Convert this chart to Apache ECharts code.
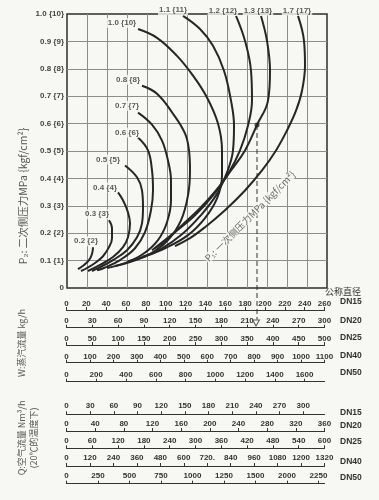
<!DOCTYPE html>
<html><head><meta charset="utf-8">
<script src="https://cdn.jsdelivr.net/npm/echarts@6/dist/echarts.min.js"></script>
<style>html,body{margin:0;padding:0;background:#f7f7f4}#c{width:379px;height:500px}</style>
</head><body><div id="c"></div><script>
// ---- Data ----
const yTickLabels = ['0','0.1 {1}','0.2 {2}','0.3 {3}','0.4 {4}','0.5 {5}','0.6 {6}','0.7 {7}','0.8 {8}','0.9 {9}','1.0 {10}'];
const curveNames = ['0.2 {2}','0.3 {3}','0.4 {4}','0.5 {5}','0.6 {6}','0.7 {7}','0.8 {8}','1.0 {10}','1.1 {11}','1.2 {12}','1.3 {13}','1.7 {17}'];
const labelX = [19,30,38,41,60,60,61,55,106,156,191,230];
const labelY = [0.171,0.269,0.367,0.469,0.567,0.665,0.76,0.967,1.014,1.013,1.013,1.013];

const curve02 = [[26,0.149],[25,0.124],[22,0.102],[17,0.084],[11,0.069]];
const curve03 = [[42,0.247],[45,0.218],[45,0.182],[42,0.149],[36,0.116],[28,0.091],[20,0.073],[14,0.062]];
const curve04 = [[51,0.349],[56,0.32],[61,0.276],[63,0.236],[61,0.185],[56,0.149],[46,0.113],[33,0.084],[21,0.062]];
const curve05 = [[58,0.447],[70,0.404],[75,0.356],[76,0.295],[75,0.236],[70,0.185],[60,0.138],[46,0.102],[33,0.076],[25,0.062]];
const curve06 = [[71,0.549],[81,0.502],[85,0.429],[86,0.356],[84,0.284],[78,0.204],[68,0.145],[53,0.102],[37,0.073],[30,0.065]];
const curve07 = [[71,0.64],[85,0.596],[95,0.538],[101,0.465],[104,0.393],[104,0.32],[100,0.24],[91,0.175],[76,0.124],[58,0.091],[40,0.073]];
const curve08 = [[75,0.738],[90,0.709],[106,0.636],[118,0.564],[122,0.502],[123,0.429],[121,0.338],[114,0.247],[101,0.175],[83,0.124],[63,0.095],[48,0.08]];
const curve10 = [[71,0.945],[90,0.913],[110,0.847],[126,0.775],[140,0.695],[151,0.6],[155,0.502],[155,0.411],[150,0.327],[138,0.255],[121,0.193],[98,0.145],[78,0.116],[61,0.098]];
const curve11 = [[116,0.993],[133,0.945],[146,0.884],[157,0.793],[164,0.684],[167,0.593],[166,0.502],[160,0.422],[149,0.338],[133,0.262],[115,0.196],[95,0.145],[75,0.113]];
const curve12 = [[169,0.993],[178,0.902],[184,0.793],[185,0.684],[181,0.593],[173,0.502],[162,0.422],[146,0.338],[128,0.265],[108,0.204],[85,0.138]];
const curve13 = [[194,0.993],[200,0.902],[203,0.793],[201,0.684],[190,0.595],[178,0.502],[164,0.429],[149,0.356],[133,0.291],[115,0.229],[98,0.171],[88,0.145]];
const curve17 = [[231,0.993],[237,0.902],[238,0.811],[235,0.72],[229,0.647],[220,0.575],[209,0.502],[195,0.429],[178,0.356],[158,0.284],[138,0.222],[123,0.182],[108,0.153]];
const curves = [curve02,curve03,curve04,curve05,curve06,curve07,curve08,curve10,curve11,curve12,curve13,curve17];

const readPoint = [190,0.595];
const readFoot = [190,-0.115];
const readMarker = [189,-0.128];

const steamDN15Labels = ['0','20','40','60','80','100','120','140','160','180','200','220','240','260'];
const steamDN20Labels = ['0','30','60','90','120','150','180','210','240','270','300'];
const steamDN25Labels = ['0','50','100','150','200','250','300','350','400','450','500'];
const steamDN40Labels = ['0','100','200','300','400','500','600','700','800','900','1000','1100'];
const steamDN50Labels = ['0','200','400','600','800','1000','1200','1400','1600'];
const airDN15Labels = ['0','30','60','90','120','150','180','210','240','270','300'];
const airDN20Labels = ['0','40','80','120','160','200','240','280','320','360'];
const airDN25Labels = ['0','60','120','180','240','300','360','420','480','540','600'];
const airDN40Labels = ['0','120','240','360','480','600','720.','840','960','1080','1200','1320'];
const airDN50Labels = ['0','250','500','750','1000','1250','1500','2000','2250'];
const scaleNames = ['DN15','DN20','DN25','DN40','DN50'];

// ---- Build ----
const BG = '#f7f7f4';
const FONT = "'Liberation Sans','Noto Sans CJK SC',sans-serif";
const CJK = "'Noto Sans CJK SC','Liberation Sans',sans-serif";

const scales = [
  {labels: steamDN15Labels, interval: 20, max: 260, top: 309, margin: 1.5},
  {labels: steamDN20Labels, interval: 30, max: 300, top: 326.7, margin: 1.5},
  {labels: steamDN25Labels, interval: 50, max: 500, top: 344, margin: 1},
  {labels: steamDN40Labels, interval: 100, max: 1100, top: 361.7, margin: 1},
  {labels: steamDN50Labels, interval: 200, max: 1734, top: 380.7, margin: 2},
  {labels: airDN15Labels, interval: 30, max: 327, top: 413.3, margin: 4},
  {labels: airDN20Labels, interval: 40, max: 360, top: 430, margin: 2.5},
  {labels: airDN25Labels, interval: 60, max: 600, top: 447.3, margin: 3},
  {labels: airDN40Labels, interval: 120, max: 1320, top: 465, margin: 3},
  {labels: airDN50Labels, interval: 250, max: 2048, top: 482.7, margin: 3}
];

const grids = [{left: 67, top: 14, width: 260, height: 274, show: true, borderColor: '#2e2e2e', borderWidth: 1.5, backgroundColor: 'transparent'}];
const xAxes = [{
  gridIndex: 0, type: 'value', min: 0, max: 260, interval: 20,
  axisLine: {show: false}, axisTick: {show: false}, axisLabel: {show: false},
  splitLine: {show: true, showMinLine: false, showMaxLine: false, lineStyle: {color: '#8c8c8c', width: 1}}
}];
const yAxes = [{
  gridIndex: 0, type: 'value', min: 0, max: 1, interval: 0.1,
  axisLine: {show: false}, axisTick: {show: false},
  axisLabel: {margin: 3, fontSize: 8, fontWeight: 'bold', color: '#444', fontFamily: FONT,
    formatter: v => yTickLabels[Math.round(v * 10)] || ''},
  splitLine: {show: true, showMinLine: false, showMaxLine: false, lineStyle: {color: '#8c8c8c', width: 1}}
}];
scales.forEach((s, i) => {
  const gi = i + 1;
  grids.push({left: 66.5, top: s.top, width: 258, height: 1});
  xAxes.push({
    gridIndex: gi, type: 'value', min: 0, max: s.max, interval: s.interval, position: 'top',
    axisLine: {show: true, lineStyle: {color: '#333', width: 1.2}},
    axisTick: {show: true, length: 3, lineStyle: {color: '#333', width: 1}},
    axisLabel: {margin: s.margin, fontSize: 8, fontWeight: 'bold', color: '#333', fontFamily: FONT,
      showMinLabel: true, showMaxLabel: (s.max % s.interval === 0),
      formatter: v => {
        const k = Math.round(v / s.interval);
        return (Math.abs(v - k * s.interval) < 1e-6 && s.labels[k] != null) ? s.labels[k] : '';
      }},
    splitLine: {show: false}
  });
  yAxes.push({gridIndex: gi, type: 'value', show: false, min: 0, max: 1});
});

const series = curves.map((c, i) => ({
  type: 'line', name: curveNames[i], xAxisIndex: 0, yAxisIndex: 0, data: c,
  smooth: 0.4, symbol: 'none', lineStyle: {color: '#262626', width: 2}, z: 3
}));
series.push({
  type: 'scatter', xAxisIndex: 0, yAxisIndex: 0, symbolSize: 0, clip: false, z: 6,
  data: curveNames.map((n, i) => ({name: n, value: [labelX[i], labelY[i]]})),
  label: {show: true, position: 'inside', formatter: p => p.name, fontSize: 8, fontWeight: 'bold',
    color: '#333', fontFamily: FONT, backgroundColor: BG, padding: [1, 1]}
});
series.push({
  type: 'scatter', xAxisIndex: 0, yAxisIndex: 0, symbolSize: 0, clip: false, z: 6,
  data: [{name: 'P₁: 一次侧压力MPa {kgf/cm²}', value: [183, 0.262]}],
  label: {show: true, position: 'inside', rotate: 45, formatter: p => p.name, fontSize: 9.5,
    color: '#444', fontFamily: CJK, backgroundColor: BG, padding: [0, 1]}
});
series.push({
  type: 'line', xAxisIndex: 0, yAxisIndex: 0, data: [readPoint, readFoot], clip: false, symbol: 'none',
  lineStyle: {color: '#333', width: 1, type: [5, 3]}, z: 4
});
series.push({
  type: 'scatter', xAxisIndex: 0, yAxisIndex: 0, data: [readPoint], symbolSize: 5, z: 7,
  itemStyle: {color: '#222'}
});
series.push({
  type: 'scatter', xAxisIndex: 0, yAxisIndex: 0, data: [readMarker], clip: false, symbol: 'triangle',
  symbolRotate: 180, symbolSize: [7, 6], z: 7,
  itemStyle: {color: BG, borderColor: '#333', borderWidth: 1}
});

const graphic = [
  {type: 'text', x: 23, y: 196, rotation: Math.PI / 2,
   style: {text: 'P₂: 二次侧压力MPa {kgf/cm²}', fontSize: 10.5, fontFamily: CJK, fill: '#555', align: 'center', verticalAlign: 'middle'}},
  {type: 'text', x: 22, y: 343, rotation: Math.PI / 2,
   style: {text: 'W:蒸汽流量 kg/h', fontSize: 9, fontFamily: CJK, fill: '#555', align: 'center', verticalAlign: 'middle'}},
  {type: 'text', x: 22, y: 438, rotation: Math.PI / 2,
   style: {text: 'Q:空气流量 Nm³/h', fontSize: 9, fontFamily: CJK, fill: '#555', align: 'center', verticalAlign: 'middle'}},
  {type: 'text', x: 34, y: 438, rotation: Math.PI / 2,
   style: {text: '(20℃的温度下)', fontSize: 9, fontFamily: CJK, fill: '#555', align: 'center', verticalAlign: 'middle'}},
  {type: 'text', x: 343, y: 292,
   style: {text: '公称直径', fontSize: 9, fontFamily: CJK, fill: '#333', align: 'center', verticalAlign: 'middle'}}
];
const steamDNY = [302, 320.5, 338, 356, 373];
const airDNY = [413, 425.5, 442, 462, 478];
scaleNames.forEach((n, i) => {
  graphic.push({type: 'text', x: 340, y: steamDNY[i], style: {text: n, fontSize: 8.5, fontWeight: 'bold', fontFamily: FONT, fill: '#333', align: 'left', verticalAlign: 'middle'}});
  graphic.push({type: 'text', x: 340, y: airDNY[i], style: {text: n, fontSize: 8.5, fontWeight: 'bold', fontFamily: FONT, fill: '#333', align: 'left', verticalAlign: 'middle'}});
});

const chart = echarts.init(document.getElementById('c'), null, {renderer: 'canvas'});
chart.setOption({
  backgroundColor: BG, animation: false,
  grid: grids, xAxis: xAxes, yAxis: yAxes, series: series, graphic: graphic
});
</script></body></html>
